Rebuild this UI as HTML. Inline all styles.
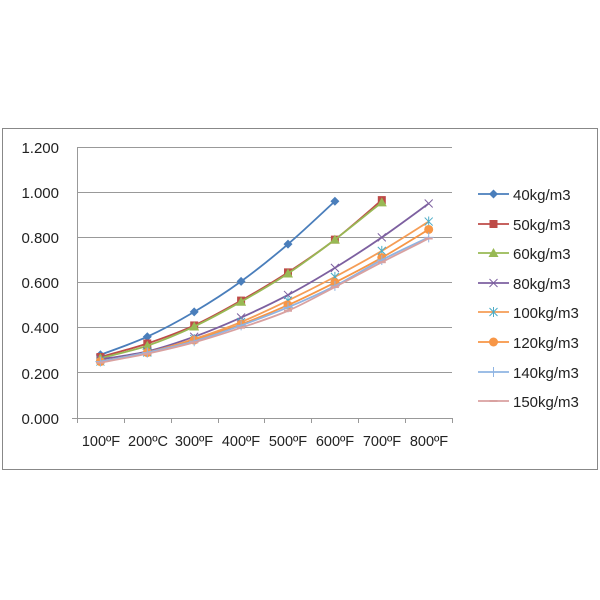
<!DOCTYPE html>
<html><head><meta charset="utf-8"><style>
html,body{margin:0;padding:0;background:#fff;}
svg{display:block;font-family:"Liberation Sans",sans-serif;}
</style></head><body>
<svg id="s" width="600" height="600" viewBox="0 0 600 600">
<rect x="2.5" y="128.5" width="595" height="341" fill="#fff" stroke="#888" stroke-width="1"/>
<g stroke="#999" stroke-width="1">
<line x1="77" y1="147.5" x2="452" y2="147.5"/>
<line x1="77" y1="192.5" x2="452" y2="192.5"/>
<line x1="77" y1="237.5" x2="452" y2="237.5"/>
<line x1="77" y1="282.5" x2="452" y2="282.5"/>
<line x1="77" y1="327.5" x2="452" y2="327.5"/>
<line x1="77" y1="372.5" x2="452" y2="372.5"/>
<line x1="72" y1="418.5" x2="452" y2="418.5"/>
<line x1="77.5" y1="147" x2="77.5" y2="418"/>
<line x1="77.5" y1="418" x2="77.5" y2="423"/><line x1="124.5" y1="418" x2="124.5" y2="423"/><line x1="171.5" y1="418" x2="171.5" y2="423"/><line x1="218.5" y1="418" x2="218.5" y2="423"/><line x1="264.5" y1="418" x2="264.5" y2="423"/><line x1="311.5" y1="418" x2="311.5" y2="423"/><line x1="358.5" y1="418" x2="358.5" y2="423"/><line x1="405.5" y1="418" x2="405.5" y2="423"/><line x1="452.5" y1="418" x2="452.5" y2="423"/>
</g>
<g font-size="15" fill="#222" text-anchor="end">
<text x="59" y="153">1.200</text><text x="59" y="198">1.000</text><text x="59" y="243">0.800</text><text x="59" y="288">0.600</text><text x="59" y="333">0.400</text><text x="59" y="379">0.200</text><text x="59" y="424">0.000</text>
</g>
<g font-size="14.5" fill="#222" text-anchor="middle">
<text x="101" y="446">100ºF</text><text x="148" y="446">200ºC</text><text x="194" y="446">300ºF</text><text x="241" y="446">400ºF</text><text x="288" y="446">500ºF</text><text x="335" y="446">600ºF</text><text x="382" y="446">700ºF</text><text x="429" y="446">800ºF</text>
</g>
<g id="series"></g>
<g font-size="15" fill="#222">
<text x="513" y="200">40kg/m3</text><text x="513" y="230">50kg/m3</text><text x="513" y="259">60kg/m3</text><text x="513" y="289">80kg/m3</text><text x="513" y="318">100kg/m3</text><text x="513" y="348">120kg/m3</text><text x="513" y="378">140kg/m3</text><text x="513" y="407">150kg/m3</text>
</g>
</svg>
<script>
var S=[
["#4a7ebb","d",[0.28,0.36,0.47,0.605,0.77,0.96]],
["#be4b48","s",[0.27,0.33,0.41,0.52,0.645,0.79,0.965]],
["#98b954","t",[0.265,0.32,0.405,0.515,0.64,0.79,0.955]],
["#7d60a0","x",[0.26,0.295,0.36,0.445,0.545,0.665,0.80,0.95]],
["#f59d56","a",[0.25,0.29,0.35,0.425,0.52,0.625,0.74,0.87]],
["#f79646","c",[0.25,0.29,0.345,0.415,0.50,0.60,0.71,0.835]],
["#8fb4e3","p",[0.25,0.29,0.34,0.41,0.49,0.585,0.70,0.80]],
["#d9a1a0","m",[0.245,0.285,0.335,0.40,0.475,0.58,0.69,0.795]]];
var g=document.getElementById('series'),h='';
function X(i){return 100.4+46.9*i}function Y(v){return 418-v*225.8}
function mk(t,x,y,c){var mc=t=='a'?'#4bacc6':c;
if(t=='d')return '<path d="M'+x+' '+(y-4.5)+'L'+(x+4.5)+' '+y+'L'+x+' '+(y+4.5)+'L'+(x-4.5)+' '+y+'Z" fill="'+c+'"/>';
if(t=='s')return '<rect x="'+(x-4)+'" y="'+(y-4)+'" width="8" height="8" fill="'+c+'"/>';
if(t=='t')return '<path d="M'+x+' '+(y-5)+'L'+(x+5)+' '+(y+4)+'L'+(x-5)+' '+(y+4)+'Z" fill="'+c+'"/>';
if(t=='x')return '<path d="M'+(x-4)+' '+(y-4)+'L'+(x+4)+' '+(y+4)+'M'+(x+4)+' '+(y-4)+'L'+(x-4)+' '+(y+4)+'" stroke="'+c+'" stroke-width="1"/>';
if(t=='a')return '<path d="M'+(x-4)+' '+(y-4)+'L'+(x+4)+' '+(y+4)+'M'+(x+4)+' '+(y-4)+'L'+(x-4)+' '+(y+4)+'M'+x+' '+(y-5)+'L'+x+' '+(y+5)+'" stroke="'+mc+'" stroke-width="1"/>';
if(t=='c')return '<circle cx="'+x+'" cy="'+y+'" r="4.5" fill="'+c+'"/>';
if(t=='p')return '<path d="M'+(x-5)+' '+y+'L'+(x+5)+' '+y+'M'+x+' '+(y-5)+'L'+x+' '+(y+5)+'" stroke="'+c+'" stroke-width="1"/>';
return '<path d="M'+(x-4)+' '+y+'L'+(x+4)+' '+y+'" stroke="'+c+'" stroke-width="2"/>';}
S.forEach(function(s,k){var p=s[2].map(function(v,i){return [X(i),Y(v)]});
var d='M'+p[0][0]+' '+p[0][1];
for(var i=0;i<p.length-1;i++){var p0=p[i-1]||p[i],p1=p[i],p2=p[i+1],p3=p[i+2]||p2;
d+='C'+(p1[0]+(p2[0]-p0[0])/6)+' '+(p1[1]+(p2[1]-p0[1])/6)+' '+(p2[0]-(p3[0]-p1[0])/6)+' '+(p2[1]-(p3[1]-p1[1])/6)+' '+p2[0]+' '+p2[1];}
h+='<path d="'+d+'" fill="none" stroke="'+s[0]+'" stroke-width="1.8"/>';
p.forEach(function(q){h+=mk(s[1],q[0],q[1],s[0])});
var ly=[194,224,253,283,312,342,372,401][k];
h+='<line x1="478" y1="'+ly+'" x2="509" y2="'+ly+'" stroke="'+s[0]+'" stroke-width="1.8"/>'+mk(s[1],493.5,ly,s[0]);});
g.innerHTML=h;
</script>
</body></html>
